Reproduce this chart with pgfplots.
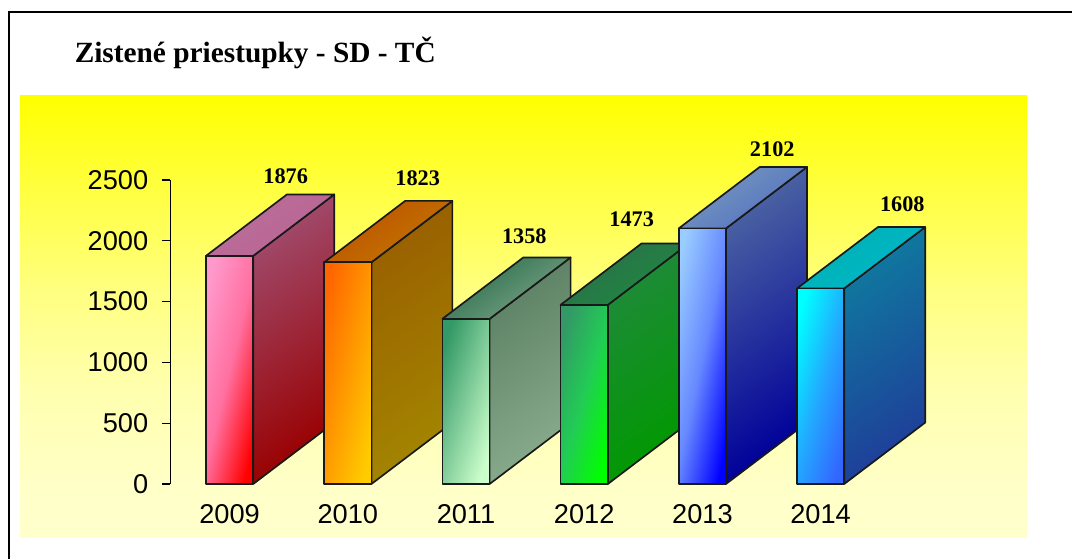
\documentclass[border=0pt]{standalone}
\usepackage{fontspec}
\usepackage{pgfplots}
\pgfplotsset{compat=1.18}
\setmainfont{Liberation Sans}
\newfontfamily\serifb{Liberation Serif}
\definecolor{bgA}{HTML}{FFFF00}
\definecolor{bgB}{HTML}{FFFF40}
\definecolor{bgC}{HTML}{FFFF80}
\definecolor{bgD}{HTML}{FFFFAE}
\definecolor{bgE}{HTML}{FFFFC8}
\definecolor{bgF}{HTML}{FFFFCC}
\pgfdeclareverticalshading{bgshade}{100bp}{color(0bp)=(bgF); color(25bp)=(bgF); color(30.5bp)=(bgE); color(42bp)=(bgD); color(53bp)=(bgC); color(64.5bp)=(bgB); color(75bp)=(bgA); color(100bp)=(bgA)}
\definecolor{aF}{HTML}{FF99CC}\definecolor{aG}{HTML}{FF0000}\definecolor{aM}{HTML}{FF70A0}
\definecolor{aS}{HTML}{A04A6C}\definecolor{aT}{HTML}{990000}
\definecolor{aU}{HTML}{B86F9A}\definecolor{aV}{HTML}{BC6494}
\definecolor{bF}{HTML}{FF6600}\definecolor{bG}{HTML}{FFCC00}\definecolor{bM}{HTML}{FF9900}
\definecolor{bS}{HTML}{996000}\definecolor{bT}{HTML}{A38500}
\definecolor{bU}{HTML}{BF5000}\definecolor{bV}{HTML}{C07800}
\definecolor{cF}{HTML}{339966}\definecolor{cG}{HTML}{CCFFCC}\definecolor{cM}{HTML}{80CC99}
\definecolor{cS}{HTML}{5C8063}\definecolor{cT}{HTML}{8AAC8E}
\definecolor{cU}{HTML}{256B48}\definecolor{cV}{HTML}{7FA68A}
\definecolor{dF}{HTML}{339966}\definecolor{dG}{HTML}{00FF00}\definecolor{dM}{HTML}{22CC55}
\definecolor{dS}{HTML}{1F8A3A}\definecolor{dT}{HTML}{009900}
\definecolor{dU}{HTML}{2A6E4A}\definecolor{dV}{HTML}{208A40}
\definecolor{eF}{HTML}{99CCFF}\definecolor{eG}{HTML}{0000FF}\definecolor{eM}{HTML}{6688FF}
\definecolor{eS}{HTML}{4A62A2}\definecolor{eT}{HTML}{000099}
\definecolor{eU}{HTML}{7A9ABF}\definecolor{eV}{HTML}{4F6FC0}
\definecolor{fF}{HTML}{00FFFF}\definecolor{fG}{HTML}{3366FF}\definecolor{fM}{HTML}{22AAFF}
\definecolor{fS}{HTML}{0F7A9F}\definecolor{fT}{HTML}{1F3D99}
\definecolor{fU}{HTML}{00B0B0}\definecolor{fV}{HTML}{00B8CC}
\pgfplotsset{
  face/.style={draw=black!90,line width=1.25pt,line join=round,no markers,forget plot},
  front/.style n args={4}{face,ybar,bar shift=0pt,bar width=35.4pt,top color=#1,bottom color=#2,middle color=#3,shading angle=#4},
  depth/.style 2 args={face,sharp plot,top color=#1,bottom color=#2,shading angle=35},
}
\begin{document}
\begin{tikzpicture}[x=0.75pt,y=0.75pt]
% pixel (px,py) -> (px-170.5, 484-py)
\useasboundingbox (-170.5,-75) rectangle (901.5,484);
\shade[shading=bgshade] (-150.7,-54) rectangle (856.5,388.2);
\draw[black,line width=1.1pt] (-161.5,-75) -- (-161.5,472) -- (901.5,472);
\node[anchor=base west,inner sep=0pt,font=\fontsize{22}{22}\serifb\bfseries] at (-96,421) {Zistené priestupky - SD - TČ};
\begin{axis}[
  at={(0,0)},anchor=south west,
  scale only axis,width=531.9pt,height=228pt,
  xmin=-0.5,xmax=5.5,ymin=0,ymax=2500,
  clip=false,
  axis y line=left,axis x line=bottom,
  axis line style={-,line width=1pt,black},
  x axis line style={draw=none},
  xtick={0,1,2,3,4,5},
  xticklabels={2009,2010,2011,2012,2013,2014},
  ytick={0,500,1000,1500,2000,2500},
  xtick style={draw=none},
  ytick style={line width=1pt,black},
  tick align=outside,
  major tick length=6pt,
  /pgf/number format/assume math mode=true,
  /pgf/number format/1000 sep={},
  tick label style={font=\fontsize{20.4}{21}\selectfont},
  yticklabel style={xshift=-7.2pt},
  xticklabel style={yshift=-6pt},
]
% 2009
\addplot[depth={aS}{aT}] coordinates {(0.2,0)(0.885,505)(0.885,2381)(0.2,1876)} --cycle;
\addplot[depth={aU}{aV}] coordinates {(-0.2,1876)(0.2,1876)(0.885,2381)(0.485,2381)} --cycle;
\addplot[front={aF}{aG}{aM}{76}] coordinates {(0,1876)};
% 2010
\addplot[depth={bS}{bT}] coordinates {(1.2,0)(1.885,505)(1.885,2328)(1.2,1823)} --cycle;
\addplot[depth={bU}{bV}] coordinates {(0.8,1823)(1.2,1823)(1.885,2328)(1.485,2328)} --cycle;
\addplot[front={bF}{bG}{bM}{76}] coordinates {(1,1823)};
% 2011
\addplot[depth={cS}{cT}] coordinates {(2.2,0)(2.885,505)(2.885,1863)(2.2,1358)} --cycle;
\addplot[depth={cU}{cV}] coordinates {(1.8,1358)(2.2,1358)(2.885,1863)(2.485,1863)} --cycle;
\addplot[front={cF}{cG}{cM}{72}] coordinates {(2,1358)};
% 2012
\addplot[depth={dS}{dT}] coordinates {(3.2,0)(3.885,505)(3.885,1978)(3.2,1473)} --cycle;
\addplot[depth={dU}{dV}] coordinates {(2.8,1473)(3.2,1473)(3.885,1978)(3.485,1978)} --cycle;
\addplot[front={dF}{dG}{dM}{73}] coordinates {(3,1473)};
% 2013
\addplot[depth={eS}{eT}] coordinates {(4.2,0)(4.885,505)(4.885,2607)(4.2,2102)} --cycle;
\addplot[depth={eU}{eV}] coordinates {(3.8,2102)(4.2,2102)(4.885,2607)(4.485,2607)} --cycle;
\addplot[front={eF}{eG}{eM}{78}] coordinates {(4,2102)};
% 2014
\addplot[depth={fS}{fT}] coordinates {(5.2,0)(5.885,505)(5.885,2113)(5.2,1608)} --cycle;
\addplot[depth={fU}{fV}] coordinates {(4.8,1608)(5.2,1608)(5.885,2113)(5.485,2113)} --cycle;
\addplot[front={fF}{fG}{fM}{74}] coordinates {(5,1608)};
\begin{scope}[every node/.style={font=\fontsize{16.7}{17}\serifb\bfseries,inner sep=0pt}]
\node at (axis cs:0.475,2535) {1876};
\node at (axis cs:1.591,2514) {1823};
\node at (axis cs:2.493,2034) {1358};
\node at (axis cs:3.402,2177) {1473};
\node at (axis cs:4.591,2755) {2102};
\node at (axis cs:5.691,2303) {1608};
\end{scope}
\end{axis}
\end{tikzpicture}
\end{document}
